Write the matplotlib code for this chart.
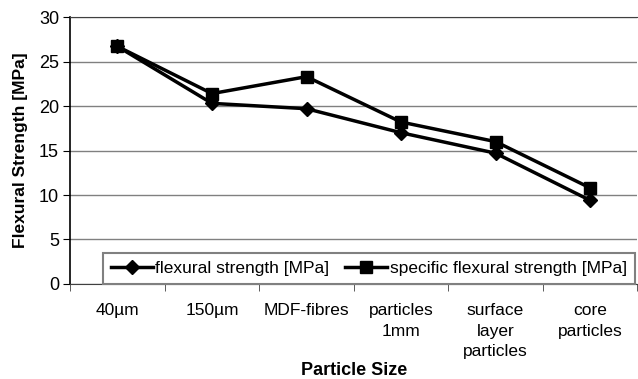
import matplotlib.pyplot as plt
import numpy as np

plt.rcParams['font.family'] = ['Liberation Sans', 'DejaVu Sans']

categories = ['40µm', '150µm', 'MDF-fibres', 'particles\n1mm', 'surface\nlayer\nparticles', 'core\nparticles']
flexural = [26.7, 20.3, 19.7, 17.0, 14.7, 9.4]
specific = [26.7, 21.4, 23.3, 18.2, 16.0, 10.8]

fig = plt.figure(figsize=(6.38, 3.79), dpi=100)
ax = fig.add_axes([0.11, 0.2507, 0.889, 0.7043])

x = np.arange(len(categories))
ax.plot(x, flexural, color='black', lw=2.5, marker='D', markersize=7.5,
        label='flexural strength [MPa]', zorder=3)
ax.plot(x, specific, color='black', lw=2.5, marker='s', markersize=9,
        label='specific flexural strength [MPa]', zorder=3)

ax.set_xlim(-0.5, len(categories) - 0.5)
ax.set_ylim(0, 30)
ax.set_yticks(range(0, 31, 5))
ax.yaxis.grid(True, color='#808080', lw=1)
ax.set_axisbelow(True)

ax.set_xticks(x)
ax.set_xticklabels(categories, fontsize=12.5, linespacing=1.45)
ax.set_xticks(np.arange(-0.5, len(categories), 1), minor=True)
ax.tick_params(axis='x', which='major', length=0, pad=14)
ax.tick_params(axis='x', which='minor', length=5, color='#404040')
ax.tick_params(axis='y', labelsize=13, length=5, pad=3)

ax.spines['right'].set_visible(False)
ax.spines['top'].set_color('#404040')
ax.spines['bottom'].set_color('#404040')
ax.spines['left'].set_linewidth(1.2)

ax.set_xlabel('Particle Size', fontsize=13, fontweight='bold', labelpad=2)
ax.set_ylabel('Flexural Strength [MPa]', fontsize=12.5, fontweight='bold', labelpad=8)

leg = ax.legend(loc='lower left', bbox_to_anchor=(0.058, 0.0, 0.937, 0.12),
                mode='expand', ncol=2,
                fontsize=12.5, frameon=True, fancybox=False, handlelength=2.4,
                borderpad=0.45, columnspacing=0.45, handletextpad=0.15,
                borderaxespad=0)
leg.get_frame().set_edgecolor('#808080')
leg.get_frame().set_linewidth(1.5)
leg.get_frame().set_alpha(1)

fig.savefig('out.png', dpi=100)
